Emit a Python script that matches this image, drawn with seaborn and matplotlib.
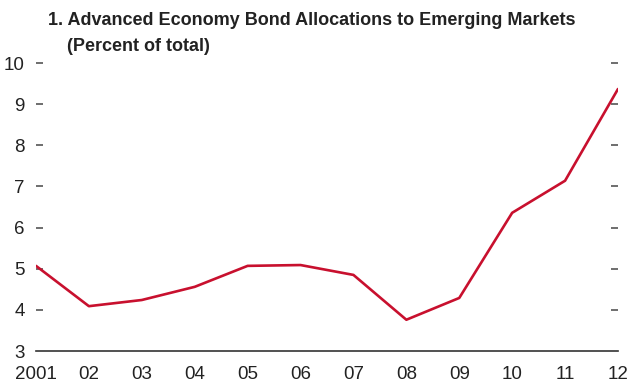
import matplotlib
matplotlib.use("Agg")
import matplotlib.pyplot as plt
import seaborn as sns
import pandas as pd

years = [2001, 2002, 2003, 2004, 2005, 2006, 2007, 2008, 2009, 2010, 2011, 2012]
year_labels = ["2001", "02", "03", "04", "05", "06", "07", "08", "09", "10", "11", "12"]
bond_share = [5.07, 4.09, 4.24, 4.56, 5.07, 5.09, 4.85, 3.76, 4.29, 6.36, 7.14, 9.37]
y_ticks = [3, 4, 5, 6, 7, 8, 9, 10]

sns.set_style("white")
plt.rcParams['font.family'] = ['Liberation Sans', 'DejaVu Sans']

df = pd.DataFrame({"year": years, "share": bond_share})

fig = plt.figure(figsize=(6.29, 3.87), dpi=100)
ax = fig.add_axes([0.0572, 0.093, 0.9253, 0.744])

sns.lineplot(data=df, x="year", y="share", color="#C8102E", linewidth=1.9, ax=ax)

ax.set_xlim(2001, 2012)
ax.set_ylim(3, 10)
ax.set_xticks(years)
ax.set_xticklabels(year_labels)
ax.set_yticks(y_ticks)
ax.set_xlabel("")
ax.set_ylabel("")

for s in ["top", "left", "right"]:
    ax.spines[s].set_visible(False)
ax.spines["bottom"].set_color("#333333")
ax.spines["bottom"].set_linewidth(1.2)

ax.tick_params(axis="x", direction="in", length=6, width=1.2, color="#333333",
               labelsize=13.5, pad=11, labelcolor="#222222")
ax.tick_params(axis="y", direction="in", length=5, width=1.2, color="#555555",
               labelsize=13.5, pad=8, right=True, left=True, labelright=False,
               labelcolor="#222222")
# the bottom y tick sits on the axis line, so hide its dashes
ax.yaxis.get_major_ticks()[0].tick1line.set_visible(False)
ax.yaxis.get_major_ticks()[0].tick2line.set_visible(False)

fig.text(0.076, 0.935, "1. Advanced Economy Bond Allocations to Emerging Markets",
         fontsize=13, fontweight="bold", color="#222222")
fig.text(0.106, 0.868, "(Percent of total)",
         fontsize=13, fontweight="bold", color="#222222")

fig.savefig("out.png", dpi=100)
